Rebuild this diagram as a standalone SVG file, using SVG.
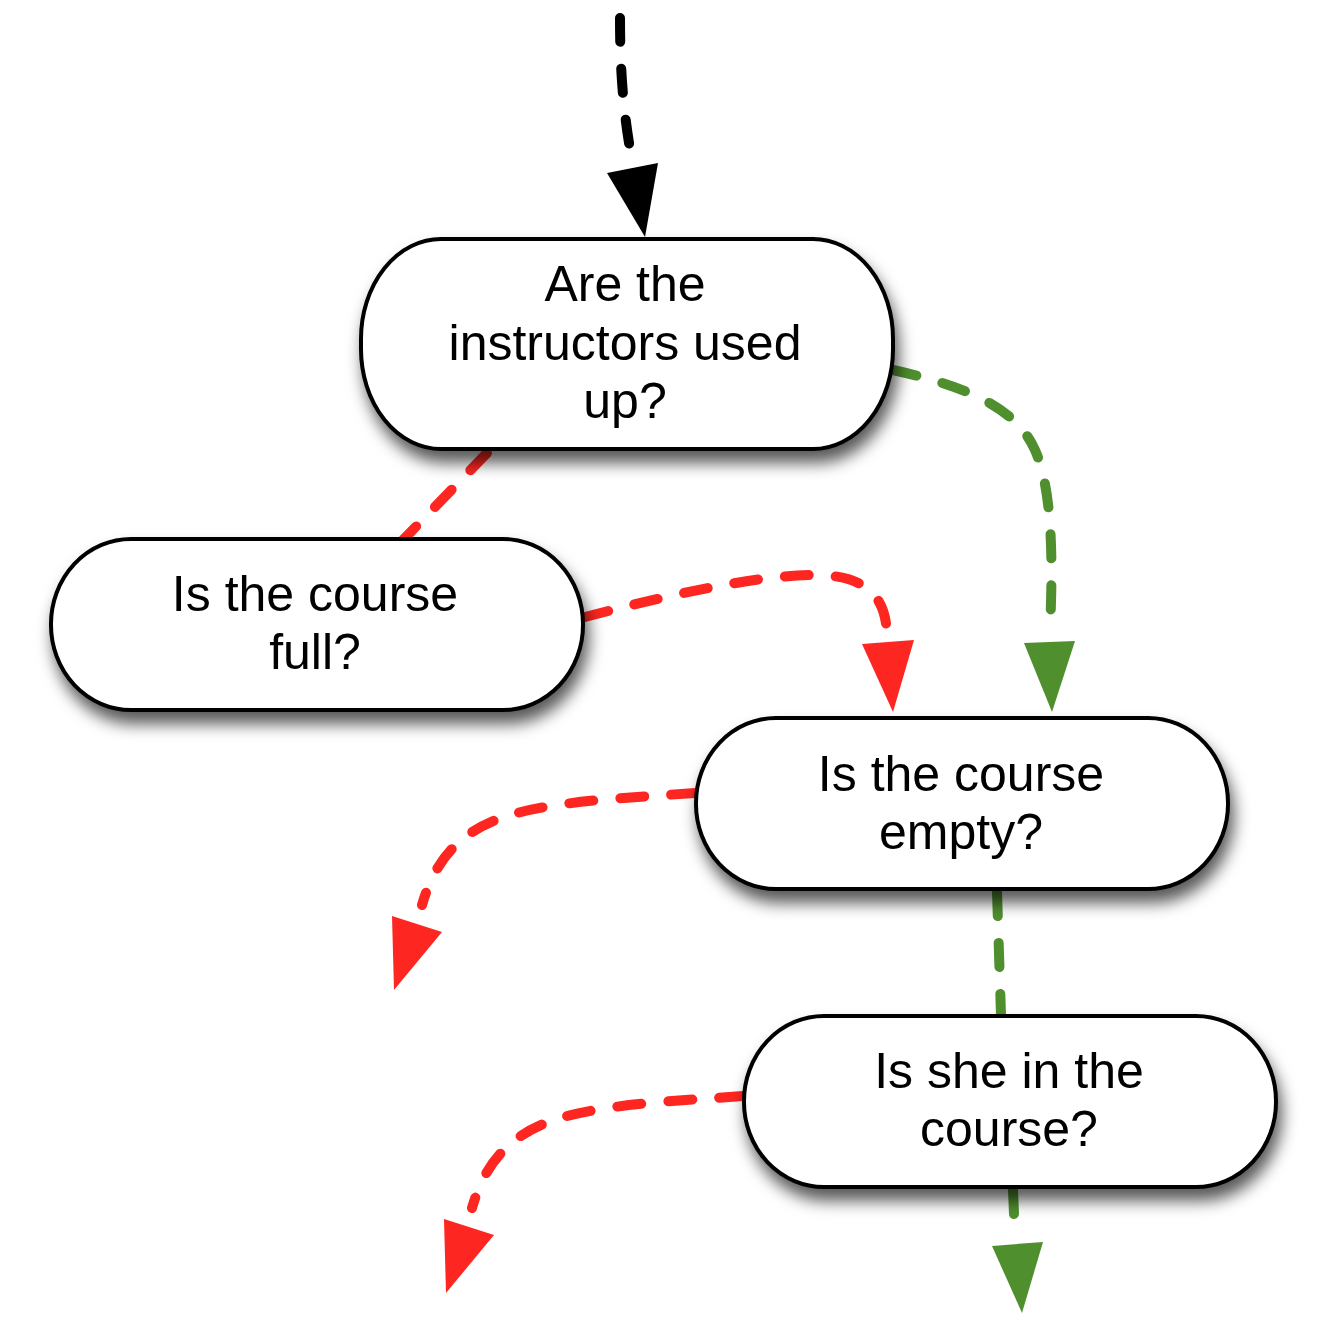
<svg xmlns="http://www.w3.org/2000/svg" width="1320" height="1333" viewBox="0 0 1320 1333">
<defs>
<filter id="sh" x="-20%" y="-30%" width="140%" height="170%">
<feDropShadow dx="4" dy="12" stdDeviation="8" flood-color="#000" flood-opacity="0.65"/>
</filter>
<style>
.node rect{fill:#fff;stroke:#000;stroke-width:4}
.node text{font-family:"Liberation Sans",Arial,sans-serif;font-size:50px;fill:#000;text-anchor:middle}
.ln{fill:none;stroke-width:10;stroke-linecap:round;stroke-dasharray:24 27}
.blk{stroke:#000}.red{stroke:#fe2620}.grn{stroke:#4f8f2e}
.hblk{fill:#000}.hred{fill:#fe2620}.hgrn{fill:#4f8f2e}
</style>
</defs>
<rect width="1320" height="1333" fill="#fff"/>
<g id="connectors">
<path class="ln blk" d="M620,18 C620,60 622,110 633,165"/>
<polygon class="hblk" points="607,173 658,163 645,237"/>
<path class="ln red" d="M487,453 L403,540"/>
<path class="ln grn" d="M893,370 C960,385 1015,405 1035,450 C1055,495 1052,580 1050,632"/>
<polygon class="hgrn" points="1024,643 1075,641 1052,712"/>
<path class="ln red" d="M585,617 C650,600 750,575 815,575 C870,575 887,600 887,638"/>
<polygon class="hred" points="862,644 914,640 893,712"/>
<path class="ln red" d="M695,793 C640,797 560,800 510,815 C460,830 435,860 422,905"/>
<polygon class="hred" points="392,916 442,932 394,990"/>
<path class="ln red" d="M743,1096 C690,1100 610,1103 560,1118 C510,1133 485,1163 472,1208"/>
<polygon class="hred" points="444,1219 494,1235 446,1293"/>
<path class="ln grn" d="M997,892 L1001,1015"/>
<path class="ln grn" d="M1013,1190 L1015,1238"/>
<polygon class="hgrn" points="992,1246 1043,1242 1022,1313"/>
</g>
<g id="n1" class="node">
<rect x="361" y="239" width="532" height="210" rx="80" ry="100" filter="url(#sh)"/>
<text x="625" y="301">Are the</text>
<text x="625" y="360">instructors used</text>
<text x="625" y="418">up?</text>
</g>
<g id="n2" class="node">
<rect x="51" y="539" width="532" height="171" rx="80" ry="85" filter="url(#sh)"/>
<text x="315" y="611">Is the course</text>
<text x="315" y="669">full?</text>
</g>
<g id="n3" class="node">
<rect x="696" y="718" width="532" height="171" rx="80" ry="85" filter="url(#sh)"/>
<text x="961" y="791">Is the course</text>
<text x="961" y="849">empty?</text>
</g>
<g id="n4" class="node">
<rect x="744" y="1016" width="532" height="171" rx="80" ry="85" filter="url(#sh)"/>
<text x="1009" y="1088">Is she in the</text>
<text x="1009" y="1146">course?</text>
</g>
</svg>
